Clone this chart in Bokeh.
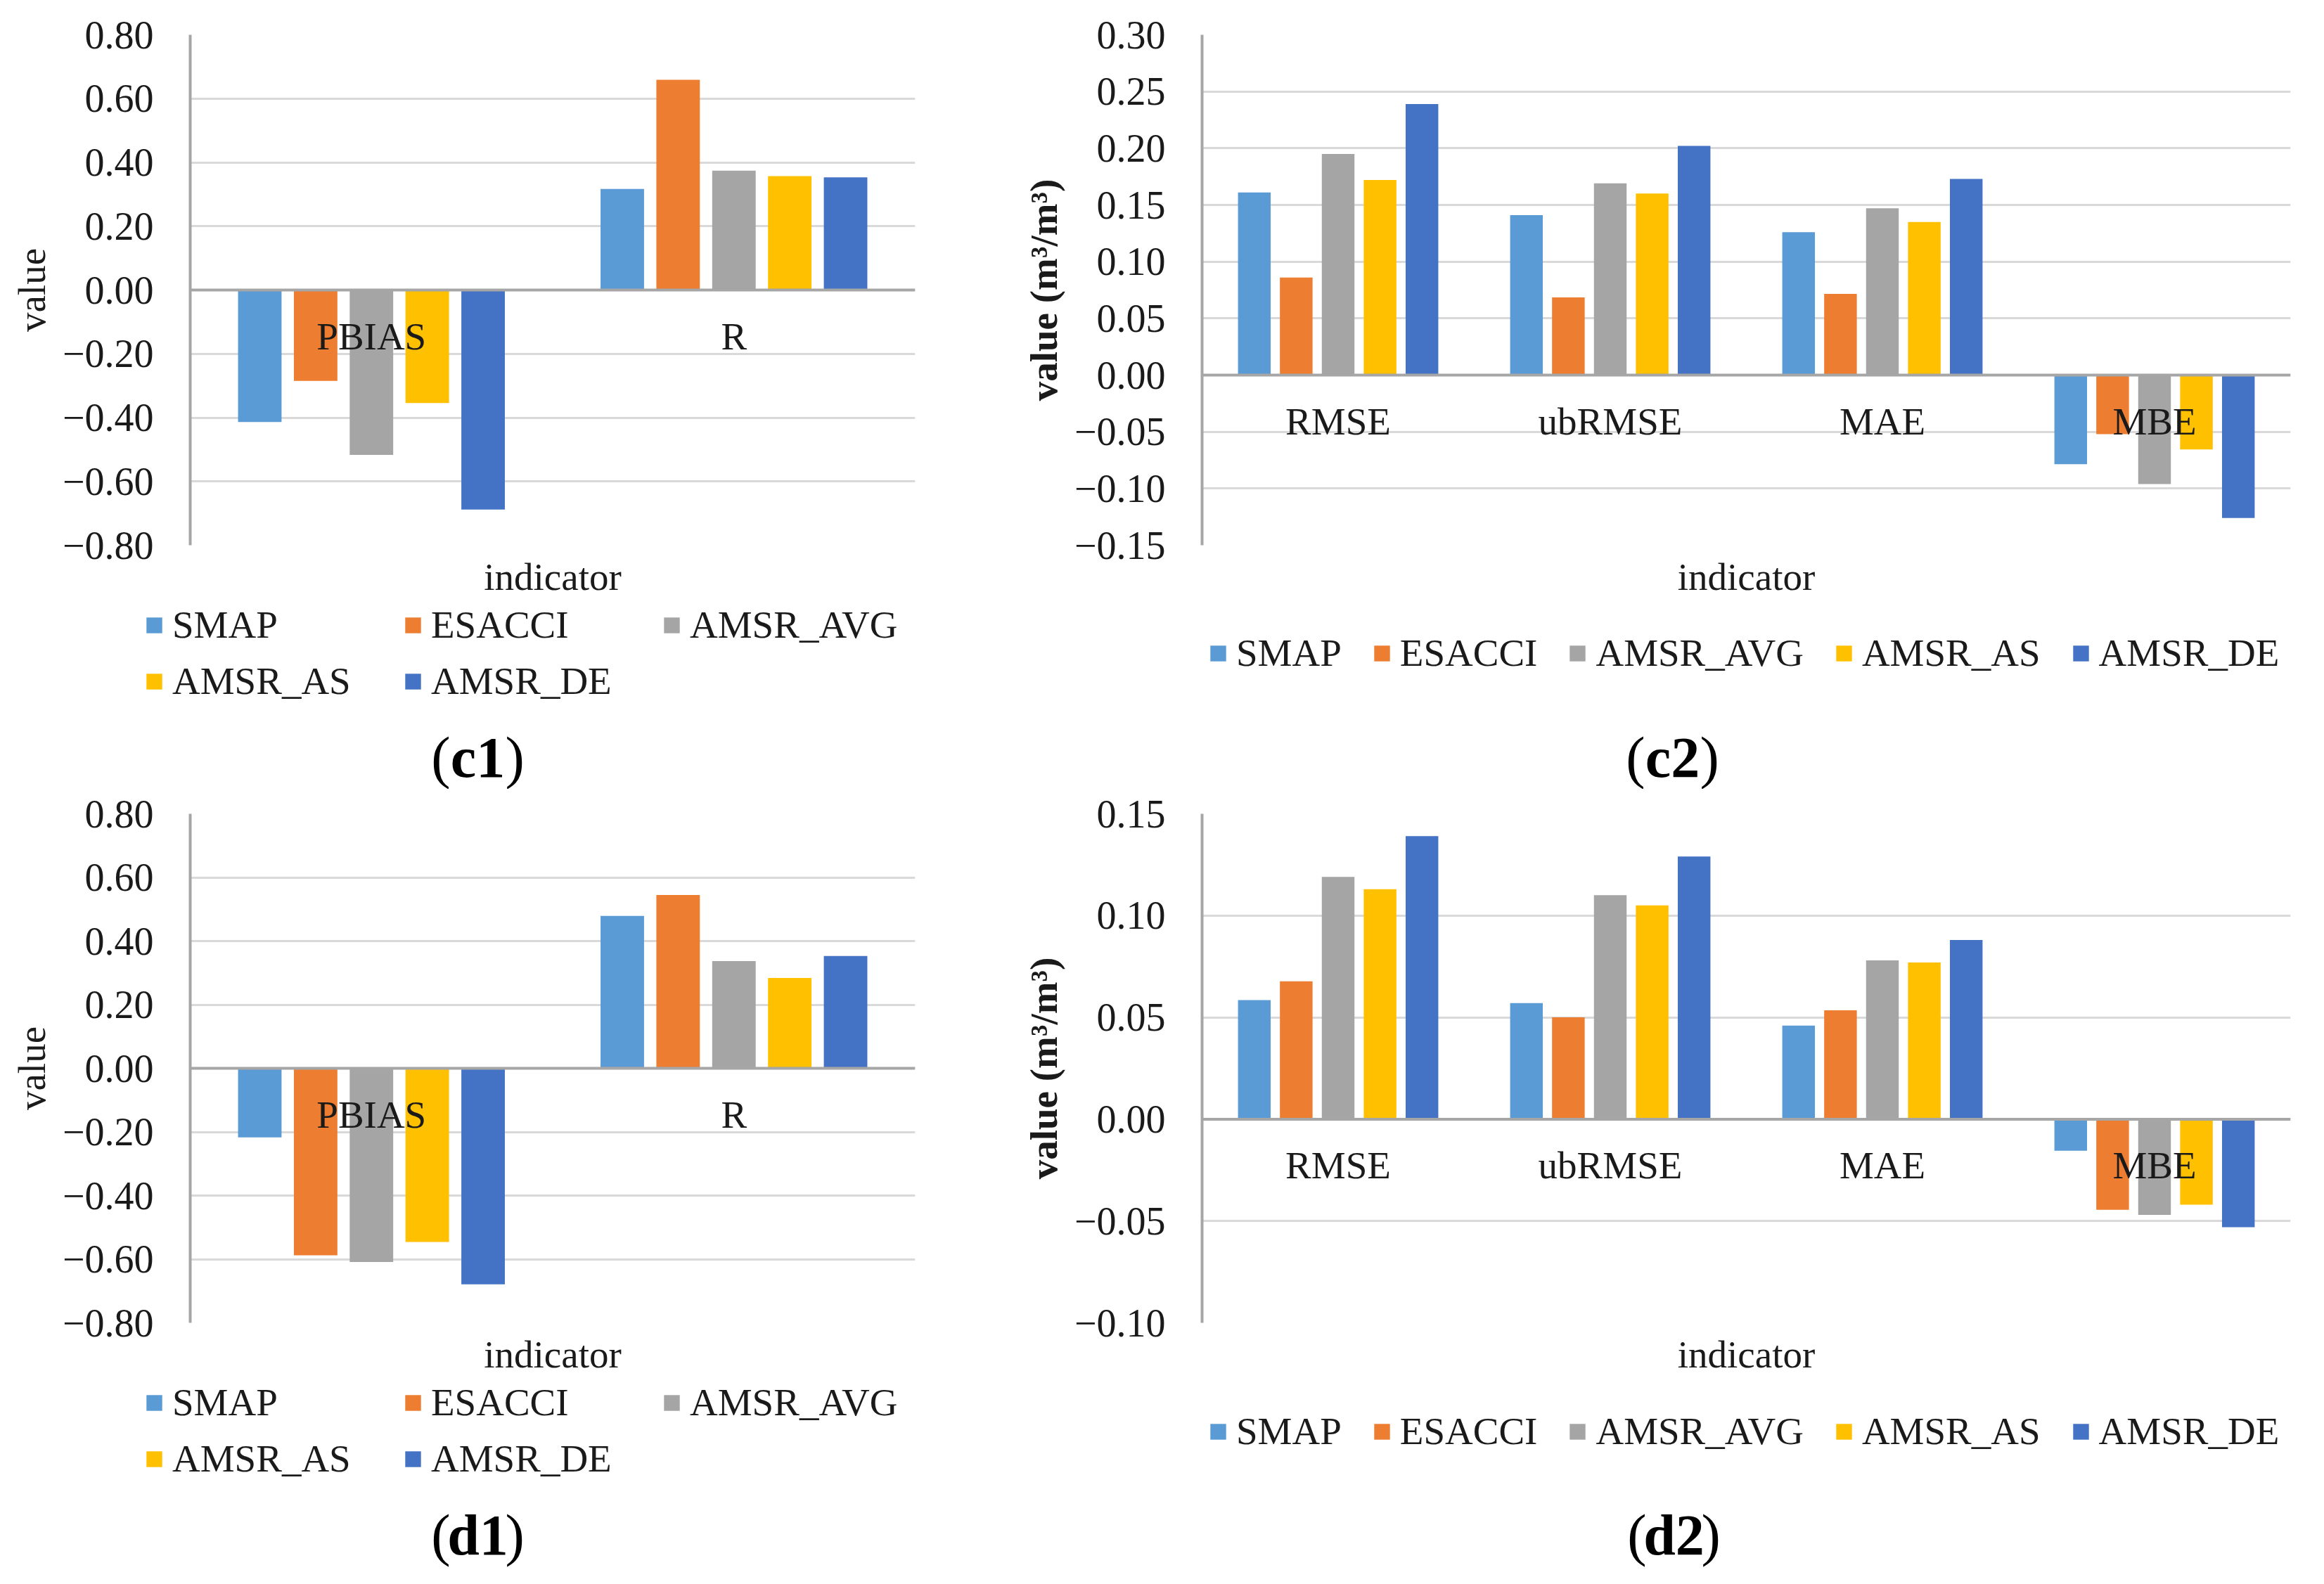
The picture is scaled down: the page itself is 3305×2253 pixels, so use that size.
from bokeh.plotting import figure
from bokeh.models import (ColumnDataSource, FactorRange, Range1d, FixedTicker,
                          CustomJSTickFormatter, Span, Legend, LegendItem, Label)
from bokeh.transform import dodge
from bokeh.layouts import column, row
from bokeh.core.properties import value
from bokeh.embed import file_html
from bokeh.resources import INLINE

# ---------------- data ----------------
SERIES = ["SMAP", "ESACCI", "AMSR_AVG", "AMSR_AS", "AMSR_DE"]
COLORS = ["#5B9BD5", "#ED7D31", "#A5A5A5", "#FFC000", "#4472C4"]

C1_CATS = ["PBIAS", "R"]
C1_SMAP = [-0.414, 0.317]
C1_ESACCI = [-0.285, 0.659]
C1_AMSR_AVG = [-0.517, 0.374]
C1_AMSR_AS = [-0.354, 0.357]
C1_AMSR_DE = [-0.688, 0.353]
C1_TICKS = [-0.8, -0.6, -0.4, -0.2, 0.0, 0.2, 0.4, 0.6, 0.8]

C2_CATS = ["RMSE", "ubRMSE", "MAE", "MBE"]
C2_SMAP = [0.161, 0.141, 0.126, -0.0785]
C2_ESACCI = [0.086, 0.0685, 0.0716, -0.052]
C2_AMSR_AVG = [0.195, 0.169, 0.147, -0.096]
C2_AMSR_AS = [0.172, 0.160, 0.135, -0.0655]
C2_AMSR_DE = [0.239, 0.202, 0.173, -0.126]
C2_TICKS = [-0.15, -0.10, -0.05, 0.0, 0.05, 0.10, 0.15, 0.20, 0.25, 0.30]

D1_CATS = ["PBIAS", "R"]
D1_SMAP = [-0.217, 0.479]
D1_ESACCI = [-0.588, 0.545]
D1_AMSR_AVG = [-0.609, 0.337]
D1_AMSR_AS = [-0.546, 0.284]
D1_AMSR_DE = [-0.679, 0.353]
D1_TICKS = [-0.8, -0.6, -0.4, -0.2, 0.0, 0.2, 0.4, 0.6, 0.8]

D2_CATS = ["RMSE", "ubRMSE", "MAE", "MBE"]
D2_SMAP = [0.0585, 0.057, 0.046, -0.0155]
D2_ESACCI = [0.0677, 0.050, 0.0535, -0.0445]
D2_AMSR_AVG = [0.119, 0.110, 0.078, -0.047]
D2_AMSR_AS = [0.113, 0.105, 0.077, -0.042]
D2_AMSR_DE = [0.139, 0.129, 0.088, -0.053]
D2_TICKS = [-0.10, -0.05, 0.0, 0.05, 0.10, 0.15]

# ---------------- style ----------------
FONT = "Liberation Serif"
TXT = "#1a1a1a"
FS = "55px"
TICK_FS = "56px"
OFFSETS = [-0.308, -0.154, 0.0, 0.154, 0.308]
BAR_W = 0.12


def fmt():
    return CustomJSTickFormatter(code="""
const v = Math.round(tick * 100) / 100;
if (Math.abs(v) < 1e-9) { return "0.00"; }
return (v < 0 ? "\u2212" : "") + Math.abs(v).toFixed(2);
""")


def chart(cats, vals, ticks, ylabel, ybold, W, H, bl, br, bt, bb):
    p = figure(width=W, height=H,
               x_range=FactorRange(factors=cats),
               y_range=Range1d(ticks[0], ticks[-1]),
               output_backend="svg", toolbar_location=None,
               min_border_left=bl, min_border_right=br,
               min_border_top=bt, min_border_bottom=bb)
    p.frame_align = False
    p.outline_line_color = None
    p.background_fill_color = "white"
    p.border_fill_color = "white"
    p.xgrid.visible = False
    p.ygrid.ticker = FixedTicker(ticks=ticks)
    p.ygrid.grid_line_color = "#D9D9D9"
    p.ygrid.grid_line_width = 3

    ya = p.yaxis[0]
    ya.ticker = FixedTicker(ticks=ticks)
    ya.formatter = fmt()
    ya.major_tick_line_color = None
    ya.minor_tick_line_color = None
    ya.axis_line_color = "#A6A6A6"
    ya.axis_line_width = 4
    ya.major_label_standoff = 46
    ya.major_label_text_font = FONT
    ya.major_label_text_font_size = TICK_FS
    ya.major_label_text_color = TXT
    ya.axis_label = ylabel
    ya.axis_label_text_font = FONT
    ya.axis_label_text_font_size = FS
    ya.axis_label_text_font_style = "bold" if ybold else "normal"
    ya.axis_label_text_color = TXT
    ya.axis_label_standoff = 10

    xa = p.xaxis[0]
    xa.axis_line_color = None
    xa.major_tick_line_color = None
    xa.minor_tick_line_color = None
    xa.major_label_text_font_size = "1px"
    xa.major_label_text_alpha = 0
    xa.major_label_standoff = 0
    xa.axis_label = "indicator"
    xa.axis_label_text_font = FONT
    xa.axis_label_text_font_size = FS
    xa.axis_label_text_font_style = "normal"
    xa.axis_label_text_color = TXT
    xa.axis_label_standoff = 8

    src = ColumnDataSource(dict(cat=cats, **{s: v for s, v in zip(SERIES, vals)}))
    for s, c, off in zip(SERIES, COLORS, OFFSETS):
        p.vbar(x=dodge("cat", off, range=p.x_range), top=s, width=BAR_W,
               source=src, fill_color=c, line_color=None)

    lab = ColumnDataSource(dict(cat=cats, y=[0.0] * len(cats)))
    p.text(x="cat", y="y", text="cat", source=lab, text_align="center",
           text_baseline="middle", y_offset=66, text_font=value(FONT),
           text_font_size=FS, text_color=TXT)

    p.add_layout(Span(location=0, dimension="width", line_color="#A6A6A6",
                      line_width=4))
    return p, src


def legend_fig(cats, src, letter, W, H, ncols, lab_w, spacing, lpad, lloc, cap_xy):
    q = figure(width=W, height=H, x_range=FactorRange(factors=cats),
               y_range=Range1d(0, 1), output_backend="svg",
               toolbar_location=None, x_axis_location=None,
               y_axis_location=None, min_border_left=0, min_border_right=0,
               min_border_top=0, min_border_bottom=0)
    q.frame_align = False
    q.outline_line_color = None
    q.grid.visible = False
    q.background_fill_color = "white"
    q.border_fill_color = "white"
    items = []
    for s, c in zip(SERIES, COLORS):
        r = q.vbar(x="cat", top=s, width=BAR_W, source=src, fill_color=c,
                   line_color=None, visible=False)
        items.append(LegendItem(label=s, renderers=[r]))
    leg = Legend(items=items, orientation="horizontal", ncols=ncols,
                 label_text_font=FONT, label_text_font_size=FS,
                 label_text_color=TXT, glyph_width=28, glyph_height=28,
                 label_standoff=12, label_width=lab_w, spacing=spacing,
                 margin=0, padding=lpad, border_line_color=None,
                 background_fill_alpha=0, location=lloc)
    q.add_layout(leg, "center")
    cx, cy = cap_xy
    half = 39
    parts = [("(", "normal", "right", cx - half),
             (letter, "bold", "center", cx),
             (")", "normal", "left", cx + half)]
    for txt, style, align, x in parts:
        q.add_layout(Label(x=x, y=cy, x_units="screen", y_units="screen",
                           text=txt, text_align=align, text_baseline="middle",
                           text_font=FONT, text_font_size="82px",
                           text_font_style=style, text_color="black"))
    return q


WL, WR = 1420, 1858

c1, s_c1 = chart(C1_CATS, [C1_SMAP, C1_ESACCI, C1_AMSR_AVG, C1_AMSR_AS, C1_AMSR_DE],
                 C1_TICKS, "value", False, WL, 853, 270, 119, 49, 76)
c2, s_c2 = chart(C2_CATS, [C2_SMAP, C2_ESACCI, C2_AMSR_AVG, C2_AMSR_AS, C2_AMSR_DE],
                 C2_TICKS, "value (m³/m³)", True, WR, 853, 289, 21, 49, 76)
d1, s_d1 = chart(D1_CATS, [D1_SMAP, D1_ESACCI, D1_AMSR_AVG, D1_AMSR_AS, D1_AMSR_DE],
                 D1_TICKS, "value", False, WL, 837, 270, 119, 35, 75)
d2, s_d2 = chart(D2_CATS, [D2_SMAP, D2_ESACCI, D2_AMSR_AVG, D2_AMSR_AS, D2_AMSR_DE],
                 D2_TICKS, "value (m³/m³)", True, WR, 837, 289, 21, 35, 75)

lc1 = legend_fig(C1_CATS, s_c1, "c1", WL, 269, 3, 311, 17, 9, (205, 122), (679, 45))
lc2 = legend_fig(C2_CATS, s_c2, "c2", WR, 269, "auto", 20, 43, 10, (298, 162), (958, 45))
ld1 = legend_fig(D1_CATS, s_d1, "d1", WL, 278, 3, 311, 17, 9, (205, 131), (679, 54))
ld2 = legend_fig(D2_CATS, s_d2, "d2", WR, 278, "auto", 20, 43, 10, (298, 170), (960, 54))

layout = column(row(column(c1, lc1), column(c2, lc2)),
                row(column(d1, ld1), column(d2, ld2)))
open("out.html", "w", encoding="utf-8").write(file_html(layout, INLINE))
